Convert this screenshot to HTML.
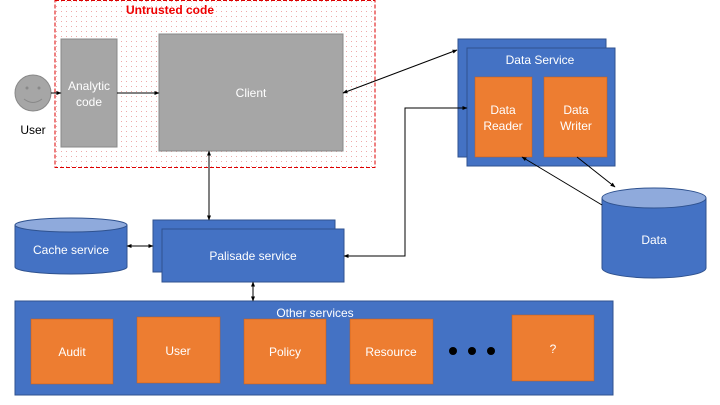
<!DOCTYPE html>
<html><head><meta charset="utf-8"><style>
body{margin:0;background:#fff;}
svg{display:block;font-family:"Liberation Sans",sans-serif;}
</style></head><body>
<svg width="720" height="405" viewBox="0 0 720 405" xmlns="http://www.w3.org/2000/svg">
<defs>
<pattern id="dots" width="5" height="5" patternUnits="userSpaceOnUse"><rect x="1" y="1" width="1" height="1" fill="#eaa"/></pattern>
<marker id="ar" viewBox="0 0 10 10" refX="9" refY="5" markerWidth="5" markerHeight="5" orient="auto-start-reverse"><path d="M0,1 L10,5 L0,9 z" fill="#000"/></marker>
</defs>
<rect x="55" y="0.5" width="320" height="167" fill="url(#dots)" stroke="#d00" stroke-width="1" stroke-dasharray="4,2"/>
<text x="170" y="14" fill="#e00" font-size="12" font-weight="bold" text-anchor="middle">Untrusted code</text>
<circle cx="33" cy="93" r="18" fill="#a6a6a6" stroke="#888"/>
<circle cx="27" cy="88" r="1.5" fill="#888"/><circle cx="39" cy="88" r="1.5" fill="#888"/>
<path d="M24,99 Q33,106 42,99" fill="none" stroke="#888"/>
<text x="33" y="134" font-size="12" text-anchor="middle">User</text>
<rect x="61" y="39" width="56" height="108" fill="#a6a6a6" stroke="#888"/>
<text x="89" y="90" fill="#fff" font-size="12" text-anchor="middle">Analytic</text>
<text x="89" y="106" fill="#fff" font-size="12" text-anchor="middle">code</text>
<rect x="159" y="34" width="184" height="117" fill="#a6a6a6" stroke="#888"/>
<text x="251" y="97" fill="#fff" font-size="12" text-anchor="middle">Client</text>
<rect x="153" y="220" width="182" height="52" fill="#4472c4" stroke="#2f528f"/>
<rect x="162" y="229" width="182" height="53" fill="#4472c4" stroke="#2f528f"/>
<text x="253" y="260" fill="#fff" font-size="12" text-anchor="middle">Palisade service</text>
<path d="M15,225 L15,267 A56,7 0 0 0 127,267 L127,225" fill="#4472c4" stroke="#2f528f"/>
<ellipse cx="71" cy="225" rx="56" ry="7" fill="#8faadc" stroke="#2f528f"/>
<text x="71" y="254" fill="#fff" font-size="12" text-anchor="middle">Cache service</text>
<rect x="15" y="301" width="598" height="94" fill="#4472c4" stroke="#2f528f"/>
<text x="315" y="317" fill="#fff" font-size="12" text-anchor="middle">Other services</text>
<g fill="#ed7d31" stroke="#c55a11" stroke-opacity="0.5">
<rect x="31" y="319" width="82" height="65"/>
<rect x="137" y="317" width="83" height="66"/>
<rect x="244" y="319" width="82" height="65"/>
<rect x="350" y="319" width="83" height="65"/>
<rect x="512" y="315" width="82" height="66"/>
</g>
<g fill="#fff" font-size="12" text-anchor="middle">
<text x="72" y="356">Audit</text>
<text x="178" y="355">User</text>
<text x="285" y="356">Policy</text>
<text x="391" y="356">Resource</text>
<text x="553" y="353">?</text>
</g>
<circle cx="453" cy="351" r="4" fill="#000"/><circle cx="472" cy="351" r="4" fill="#000"/><circle cx="491" cy="351" r="4" fill="#000"/>
<rect x="458" y="39" width="148" height="118" fill="#4472c4" stroke="#2f528f"/>
<rect x="467" y="48" width="148" height="118" fill="#4472c4" stroke="#2f528f"/>
<text x="540" y="64" fill="#fff" font-size="12" text-anchor="middle">Data Service</text>
<rect x="475" y="77" width="57" height="80" fill="#ed7d31" stroke="#c55a11" stroke-opacity="0.5"/>
<rect x="544" y="77" width="63" height="80" fill="#ed7d31" stroke="#c55a11" stroke-opacity="0.5"/>
<g fill="#fff" font-size="12" text-anchor="middle">
<text x="503" y="114">Data</text><text x="503" y="130">Reader</text>
<text x="576" y="114">Data</text><text x="576" y="130">Writer</text>
</g>
<path d="M602,198 L602,268 A52,10 0 0 0 706,268 L706,198" fill="#4472c4" stroke="#2f528f"/>
<ellipse cx="654" cy="198" rx="52" ry="10" fill="#8faadc" stroke="#2f528f"/>
<text x="654" y="244" fill="#fff" font-size="12" text-anchor="middle">Data</text>
<g stroke="#000" stroke-width="1" fill="none">
<line x1="51" y1="93" x2="61" y2="93" marker-end="url(#ar)"/>
<line x1="117" y1="93" x2="159" y2="93" marker-end="url(#ar)"/>
<line x1="343" y1="93" x2="457" y2="50" marker-start="url(#ar)" marker-end="url(#ar)"/>
<line x1="209" y1="151" x2="209" y2="220" marker-start="url(#ar)" marker-end="url(#ar)"/>
<line x1="127" y1="246" x2="153" y2="246" marker-start="url(#ar)" marker-end="url(#ar)"/>
<line x1="253" y1="282" x2="253" y2="301" marker-start="url(#ar)" marker-end="url(#ar)"/>
<polyline points="467,108 405,108 405,256 344,256" marker-start="url(#ar)" marker-end="url(#ar)"/>
<line x1="602" y1="205" x2="522" y2="157" marker-end="url(#ar)"/>
<line x1="577" y1="157" x2="615" y2="187" marker-end="url(#ar)"/>
</g>
</svg>
</body></html>
